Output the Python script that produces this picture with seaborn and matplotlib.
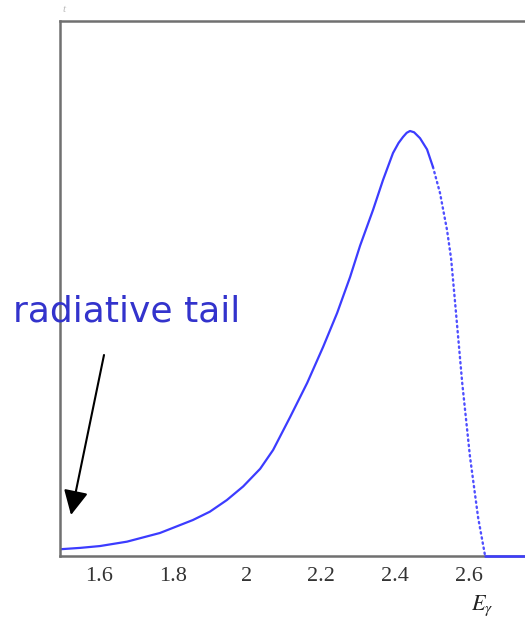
import matplotlib
matplotlib.use("Agg")
import matplotlib.pyplot as plt
import seaborn as sns
import pandas as pd

# ---- data ----
x_solid = [1.495, 1.55, 1.603, 1.676, 1.765, 1.854, 1.900, 1.946, 1.990, 2.036,
           2.071, 2.117, 2.163, 2.206, 2.244, 2.279, 2.306, 2.341, 2.368, 2.395,
           2.410, 2.422, 2.432, 2.441, 2.452, 2.468, 2.487, 2.503]
y_solid = [0.063, 0.076, 0.093, 0.134, 0.215, 0.336, 0.414, 0.523, 0.650, 0.815,
           0.991, 1.299, 1.617, 1.953, 2.271, 2.607, 2.90, 3.234, 3.514, 3.766,
           3.860, 3.916, 3.955, 3.972, 3.960, 3.905, 3.800, 3.636]
x_dotted = [2.503, 2.522, 2.541, 2.552, 2.562, 2.582, 2.603, 2.625, 2.644]
y_dotted = [3.636, 3.393, 3.047, 2.78, 2.40, 1.62, 0.93, 0.36, 0.0]
x_flat = [2.644, 2.80]
y_flat = [0.0, 0.0]
x_ticks = [1.6, 1.8, 2.0, 2.2, 2.4, 2.6]
x_ticklabels = ["1.6", "1.8", "2", "2.2", "2.4", "2.6"]
y_ticks = [0, 1, 2, 3, 4, 5]
annotation = "radiative tail"
x_label = r"$E_\gamma$"

sns.set_style("white")
W, H = 525, 626
fig = plt.figure(figsize=(W / 100, H / 100), dpi=100)
px_per_unit = 370.0
xmin, xmax = 1.495, 2.80
left_px, bottom_px, top_px = 60, 556, 21
ax = fig.add_axes([left_px / W, (H - bottom_px) / H,
                   (xmax - xmin) * px_per_unit / W, (bottom_px - top_px) / H])

blue = "#3c3cff"
df_s = pd.DataFrame({"x": x_solid, "y": y_solid})
df_d = pd.DataFrame({"x": x_dotted, "y": y_dotted})
df_f = pd.DataFrame({"x": x_flat, "y": y_flat})
sns.lineplot(data=df_s, x="x", y="y", ax=ax, color=blue, lw=1.6, sort=False,
             solid_joinstyle="round", solid_capstyle="round")
sns.lineplot(data=df_d, x="x", y="y", ax=ax, color=blue, lw=1.7,
             linestyle=(0, (0.6, 1.6)), dash_capstyle="round", sort=False, alpha=0.9)
sns.lineplot(data=df_f, x="x", y="y", ax=ax, color=blue, lw=1.8, sort=False,
             clip_on=False, zorder=5)

ax.set_xlim(xmin, xmax)
ax.set_ylim(0, 5)
ax.set_xticks(x_ticks)
ax.set_xticklabels(x_ticklabels, family="Liberation Serif", fontsize=16, color="#333333")
ax.set_yticks(y_ticks)
ax.set_yticklabels([])
ax.tick_params(axis="x", direction="in", length=7, width=1, color="#cccccc", pad=8)
ax.tick_params(axis="y", direction="in", length=6, width=1, color="#cccccc")
ax.set_xlabel("")
ax.set_ylabel("")
for side in ["left", "bottom", "top"]:
    ax.spines[side].set_color("#707070")
    ax.spines[side].set_linewidth(1.8)
ax.spines["right"].set_visible(False)

fig.text(482 / W, 1 - 606 / H, x_label, ha="center", va="center",
         fontsize=16, color="#222222", math_fontfamily="stix")
fig.text(64 / W, 1 - 10 / H, "t", ha="center", va="center", fontsize=8,
         color="#bbbbbb", family="Liberation Serif", style="italic")

fig.text(13 / W, 1 - 322 / H, annotation, ha="left", va="baseline",
         fontsize=26, color="#3333cc", family="DejaVu Sans")
fig.add_artist(matplotlib.patches.FancyArrowPatch(
    (104 / W, 1 - 355 / H), (71 / W, 1 - 515 / H), transform=fig.transFigure,
    arrowstyle="-|>,head_length=1.5,head_width=0.75", mutation_scale=10,
    color="black", lw=1.5, shrinkA=0, shrinkB=0))

fig.savefig("out.png", dpi=100)
